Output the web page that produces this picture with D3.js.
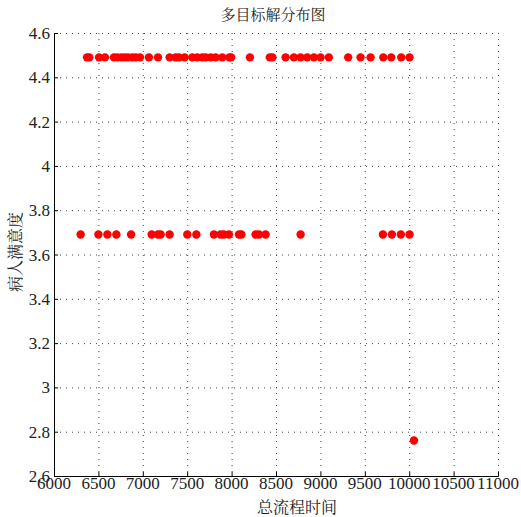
<!DOCTYPE html>
<html>
<head>
<meta charset="utf-8">
<script src="https://cdn.jsdelivr.net/npm/d3@7"></script>
<style>
  body { margin: 0; background: #fff; }
</style>
</head>
<body>
<div id="chart"></div>
<script>
// data
const highY = 4.49, lowY = 3.69;
const highX = [6372, 6398, 6507, 6574, 6675, 6713, 6758, 6795, 6833, 6882, 6920, 6968,
  7069, 7171, 7302, 7370, 7407, 7471, 7558, 7614, 7670, 7707, 7764, 7820, 7895, 7975, 7995,
  8206, 8430, 8460, 8608, 8702, 8777, 8852, 8927, 9002, 9095, 9313, 9452, 9565, 9708, 9798,
  9910, 10004];
const lowX = [6300, 6500, 6601, 6702, 6868, 7100, 7171, 7201, 7302, 7501, 7603, 7801, 7876,
  7913, 7970, 8083, 8110, 8270, 8308, 8383, 8777, 9704, 9805, 9906, 10004];
const extraPts = [[10054, 2.76]];
const xTicks = d3.range(6000, 11001, 500);
const yTicks = [2.6, 2.8, 3, 3.2, 3.4, 3.6, 3.8, 4, 4.2, 4.4, 4.6];

const points = highX.map(x => [x, highY])
  .concat(lowX.map(x => [x, lowY]))
  .concat(extraPts);

const cjk = '"Noto Serif CJK SC"';
const serif = '"Liberation Serif"';

const margin = {top: 33, right: 23, bottom: 41, left: 54},
    width = 521 - margin.left - margin.right,
    height = 517 - margin.top - margin.bottom;

const svgRoot = d3.select("#chart").append("svg")
    .attr("width", 521)
    .attr("height", 517);
const svg = svgRoot.append("g")
    .attr("transform", `translate(${margin.left},${margin.top})`);

const x = d3.scaleLinear().domain([6000, 11000]).range([0, width]);
const y = d3.scaleLinear().domain([2.6, 4.6]).range([height, 0]);

// dotted grid
svg.append("g").selectAll("line").data(xTicks.slice(1)).join("line")
    .attr("x1", d => x(d) + 0.5).attr("x2", d => x(d) + 0.5)
    .attr("y1", 0).attr("y2", height)
    .attr("stroke", "#444").attr("stroke-dasharray", "1,5");
svg.append("g").selectAll("line").data(yTicks.slice(1)).join("line")
    .attr("y1", d => y(d) + 0.5).attr("y2", d => y(d) + 0.5)
    .attr("x1", 0).attr("x2", width)
    .attr("stroke", "#444").attr("stroke-dasharray", "1,5");

// points
svg.append("g").selectAll("circle").data(points).join("circle")
    .attr("cx", d => x(d[0]))
    .attr("cy", d => y(d[1]))
    .attr("r", 4.2)
    .attr("fill", "#ff0000");

// axes lines + inward ticks (matlab style), labels drawn separately
const xAxis = svg.append("g")
    .attr("transform", `translate(0,${height})`)
    .call(d3.axisBottom(x).tickValues(xTicks).tickSize(-4).tickFormat(""));
const yAxis = svg.append("g")
    .call(d3.axisLeft(y).tickValues(yTicks).tickSize(-4).tickFormat(""));
[xAxis, yAxis].forEach(a => {
  a.select(".domain").attr("stroke", "#000");
  a.selectAll(".tick line").attr("stroke", "#000");
});

const lbl = svg.append("g").attr("class", "lbl");
lbl.selectAll("text.xl").data(xTicks).join("text")
    .attr("class", "xl")
    .attr("x", d => x(d))
    .attr("y", height + 13)
    .attr("text-anchor", "middle")
    .style("font-family", serif).style("font-size", "17px")
    .attr("fill", "#222")
    .text(d => d3.format("d")(d));
lbl.selectAll("text.yl").data(yTicks).join("text")
    .attr("class", "yl")
    .attr("x", -4)
    .attr("y", d => y(d) + 6)
    .attr("text-anchor", "end")
    .style("font-family", serif).style("font-size", "17px")
    .attr("fill", "#222")
    .text(d => String(+d.toFixed(1)));

// labels
const label = (tx, ty, size, txt, rot) => svgRoot.append("text")
    .attr("transform", `translate(${tx},${ty})` + (rot ? " rotate(-90)" : ""))
    .attr("text-anchor", "middle")
    .style("font-family", cjk).style("font-size", size + "px")
    .attr("fill", "#222")
    .text(txt);
label(273, 20, 15, "多目标解分布图");
label(297, 513, 16, "总流程时间");
label(21, 252, 16, "病人满意度", true);
</script>
</body>
</html>
